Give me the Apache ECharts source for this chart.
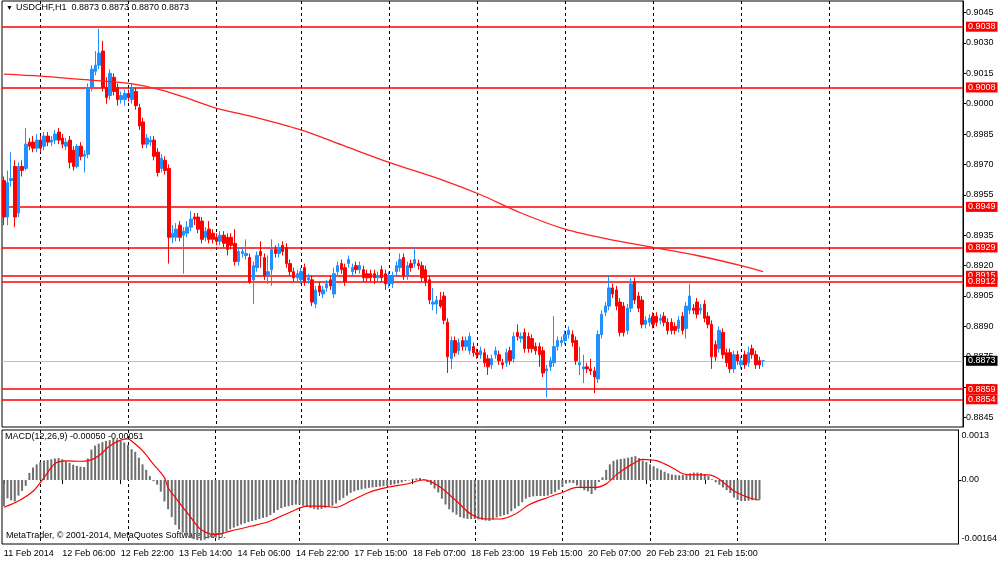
<!DOCTYPE html>
<html><head><meta charset="utf-8">
<script src="https://cdn.jsdelivr.net/npm/echarts@6.0.0/dist/echarts.min.js"></script>
<style>html,body{margin:0;padding:0;background:#fff}#c{width:1000px;height:561px}</style>
</head><body><div id="c"></div>
<script>
// ---- time axis (H1 bars, server time) ----
const sessions = [['2014-02-11T14:00:00Z', 81], ['2014-02-15T00:00:00Z', 8], ['2014-02-17T08:00:00Z', 149]];
const totalSlots = 262;
const xTickLabels = ['11 Feb 2014','12 Feb 06:00','12 Feb 22:00','13 Feb 14:00','14 Feb 06:00','14 Feb 22:00','17 Feb 15:00','18 Feb 07:00','18 Feb 23:00','19 Feb 15:00','20 Feb 07:00','20 Feb 23:00','21 Feb 15:00'];
const labelEvery = 16;

// ---- price ticks / levels ----
const priceTicks = [0.9045,0.9030,0.9015,0.9000,0.8985,0.8970,0.8955,0.8935,0.8920,0.8905,0.8890,0.8875,0.8860,0.8845];
const levels = [0.9038,0.9008,0.8949,0.8929,0.8915,0.8912,0.8859,0.8854];
const macdTickValues = [0.00113, 0, -0.00149];
const macdTickLabels = ['0.0013', '0.00', '-0.00164'];

// ---- OHLC ----
const opens = [
.8962,.8944,.8962,.8969,.8946,.8969,.8968,.8981,.8981,.8978,.8982,.8979,.8984,.8981,.8982,.8986,.8983,.8979,.8982,.8977,
.8969,.8979,.8974,.8975,.9008,.9016,.9019,.9026,.9008,.9004,.9013,.9008,.9002,.9002,.9005,.9002,.9006,.8998,.8991,.8980,
.8981,.8982,.8976,.8968,.8972,.8968,.8934,.8934,.8940,.8935,.8936,.8939,.8944,.8944,.8942,.8934,.8938,.8936,.8934,.8932,
.8935,.8934,.8934,.8931,.8922,.8926,.8925,.8924,.8913,.8919,.8927,.8924,.8915,.8918,.8928,.8926,.8930,.8929,.8921,.8917,
.8914,.8913,.8919,.8913,.8913,.8901,.8910,.8906,.8909,.8913,.8906,.8917,.8921,.8919,.8921,.8917,.8920,.8918,.8918,.8916,
.8916,.8916,.8914,.8918,.8916,.8911,.8911,.8917,.8919,.8924,.8915,.8921,.8921,.8921,.8920,.8918,.8913,.8901,.8901,.8903,
.8905,.8892,.8874,.8883,.8878,.8883,.8880,.8878,.8880,.8877,.8876,.8877,.8874,.8871,.8876,.8876,.8872,.8872,.8878,.8874,
.8887,.8884,.8887,.8885,.8884,.8880,.8880,.8878,.8868,.8870,.8872,.8880,.8882,.8883,.8886,.8886,.8883,.8871,.8869,.8870,
.8869,.8868,.8864,.8886,.8897,.8900,.8909,.8908,.8902,.8900,.8888,.8899,.8912,.8905,.8903,.8891,.8892,.8895,.8895,.8893,
.8895,.8892,.8892,.8890,.8889,.8895,.8889,.8898,.8899,.8902,.8898,.8901,.8895,.8891,.8881,.8879,.8887,.8877,.8877,.8869,
.8876,.8871,.8876,.8872,.8879,.8876,.8873,.8873];
const closes = [
.8944,.8961,.8963,.8944,.8969,.8967,.8980,.8979,.8978,.8982,.8978,.8984,.8981,.8982,.8985,.8982,.8980,.8981,.8971,.8969,
.8979,.8974,.8975,.9008,.9017,.9019,.9025,.9008,.9003,.9015,.9006,.9002,.9004,.9005,.9003,.9008,.8999,.8989,.8980,.8983,
.8982,.8974,.8966,.8973,.8967,.8934,.8936,.8938,.8934,.8937,.8939,.8943,.8943,.8938,.8933,.8937,.8933,.8933,.8932,.8935,
.8931,.8928,.8930,.8922,.8927,.8927,.8926,.8912,.8920,.8925,.8925,.8915,.8917,.8928,.8926,.8929,.8927,.8921,.8917,.8914,
.8916,.8917,.8912,.8914,.8902,.8908,.8907,.8908,.8911,.8910,.8916,.8920,.8918,.8912,.8923,.8919,.8918,.8920,.8914,.8914,
.8914,.8914,.8915,.8914,.8911,.8915,.8915,.8920,.8923,.8915,.8920,.8919,.8923,.8920,.8914,.8912,.8903,.8902,.8903,.8900,
.8893,.8875,.8883,.8877,.8882,.8880,.8883,.8885,.8877,.8876,.8878,.8872,.8870,.8874,.8878,.8873,.8871,.8877,.8873,.8885,
.8885,.8885,.8879,.8879,.8879,.8878,.8876,.8867,.8869,.8873,.8880,.8883,.8883,.8886,.8888,.8882,.8873,.8872,.8870,.8869,
.8868,.8865,.8886,.8896,.8900,.8909,.8906,.8900,.8887,.8887,.8899,.8911,.8903,.8899,.8891,.8893,.8894,.8891,.8892,.8894,
.8892,.8888,.8888,.8888,.8893,.8888,.8900,.8905,.8898,.8896,.8899,.8894,.8891,.8875,.8875,.8888,.8876,.8872,.8869,.8876,
.8873,.8873,.8871,.8877,.8876,.8871,.8871,.8873];
const lows = [
.8940,.8940,.8959,.8939,.8944,.8964,.8967,.8977,.8976,.8976,.8976,.8977,.8979,.8979,.8980,.8980,.8978,.8977,.8968,.8967,
.8968,.8972,.8966,.8973,.9006,.9014,.9017,.9006,.9000,.9002,.9004,.8999,.9000,.8999,.9001,.9000,.8997,.8987,.8978,.8978,
.8979,.8972,.8964,.8966,.8965,.8921,.8931,.8932,.8932,.8916,.8934,.8937,.8940,.8936,.8931,.8932,.8931,.8931,.8930,.8930,
.8929,.8925,.8928,.8920,.8920,.8924,.8923,.8911,.8901,.8917,.8919,.8913,.8911,.8910,.8924,.8924,.8925,.8919,.8915,.8912,
.8912,.8911,.8910,.8911,.8900,.8899,.8905,.8904,.8907,.8908,.8904,.8915,.8916,.8910,.8919,.8915,.8916,.8916,.8912,.8912,
.8912,.8911,.8912,.8912,.8908,.8909,.8909,.8915,.8917,.8913,.8913,.8917,.8919,.8918,.8912,.8910,.8901,.8898,.8896,.8899,
.8891,.8867,.8869,.8875,.8876,.8878,.8878,.8876,.8875,.8874,.8874,.8870,.8866,.8869,.8874,.8871,.8869,.8870,.8871,.8872,
.8883,.8882,.8877,.8877,.8877,.8876,.8870,.8865,.8855,.8868,.8870,.8878,.8880,.8881,.8884,.8880,.8871,.8866,.8862,.8867,
.8866,.8857,.8862,.8884,.8895,.8898,.8904,.8898,.8885,.8885,.8886,.8897,.8901,.8897,.8889,.8889,.8890,.8889,.8890,.8891,
.8890,.8886,.8886,.8886,.8887,.8886,.8884,.8896,.8896,.8894,.8896,.8892,.8889,.8869,.8873,.8877,.8874,.8870,.8867,.8867,
.8871,.8869,.8869,.8870,.8874,.8869,.8869,.8870];
const highs = [
.8964,.8967,.8976,.8972,.8971,.8972,.8988,.8983,.8984,.8985,.8984,.8986,.8986,.8984,.8987,.8988,.8985,.8983,.8984,.8979,
.8980,.8981,.8977,.9010,.9019,.9026,.9037,.9031,.9013,.9017,.9015,.9010,.9006,.9007,.9007,.9010,.9008,.9000,.8993,.8985,
.8984,.8984,.8978,.8975,.8974,.8970,.8940,.8941,.8942,.8939,.8942,.8947,.8946,.8946,.8944,.8939,.8942,.8938,.8936,.8937,
.8937,.8936,.8936,.8938,.8929,.8929,.8933,.8926,.8922,.8927,.8932,.8926,.8925,.8933,.8930,.8931,.8932,.8931,.8923,.8919,
.8918,.8919,.8921,.8916,.8915,.8910,.8912,.8910,.8913,.8915,.8919,.8922,.8923,.8921,.8925,.8921,.8922,.8922,.8920,.8918,
.8918,.8918,.8917,.8920,.8918,.8917,.8917,.8922,.8926,.8926,.8922,.8923,.8929,.8923,.8922,.8920,.8915,.8909,.8905,.8907,
.8907,.8894,.8885,.8885,.8884,.8885,.8885,.8887,.8882,.8879,.8880,.8879,.8876,.8876,.8880,.8878,.8874,.8879,.8880,.8887,
.8891,.8887,.8889,.8887,.8886,.8882,.8882,.8880,.8871,.8875,.8895,.8885,.8885,.8888,.8890,.8888,.8885,.8880,.8876,.8872,
.8874,.8870,.8888,.8898,.8902,.8915,.8911,.8910,.8904,.8902,.8901,.8914,.8914,.8907,.8905,.8895,.8896,.8897,.8897,.8896,
.8897,.8894,.8894,.8892,.8895,.8897,.8902,.8911,.8901,.8904,.8901,.8903,.8897,.8893,.8883,.8890,.8889,.8879,.8879,.8878,
.8878,.8875,.8878,.8880,.8881,.8878,.8875,.8873];

// ---- moving average (read points: [bar index, value]) ----
const maPoints = [[0,0.90146],[10,0.90136],[23,0.90117],[35,0.90098],[43,0.90067],[50,0.90027],[58,0.89977],[67,0.8994],[81,0.8987],[93,0.8979],[105,0.8971],[120,0.8962],[130,0.8955],[141,0.8946],[153,0.8938],[165,0.8933],[177,0.8929],[189,0.8925],[201,0.8920],[207,0.8917]];

// ---- MACD main (histogram) ----
const macdMain = [
-0.00067,-0.00047,-0.00052,-0.00055,-0.00040,-0.00028,-0.00015,0.00018,0.00032,0.00040,
0.00046,0.00050,0.00051,0.00053,0.00055,0.00056,0.00053,0.00048,0.00044,0.00039,
0.00036,0.00034,0.00033,0.00055,0.00078,0.00088,0.00093,0.00097,0.00100,0.00102,
0.00105,0.00104,0.00100,0.00096,0.00090,0.00079,0.00072,0.00057,0.00040,0.00026,
0.00010,-0.00003,
-0.00012,-0.00030,-0.00055,-0.00075,-0.00095,-0.00115,-0.00127,-0.00135,-0.00142,-0.00148,
-0.00152,-0.00154,-0.00155,-0.00153,-0.00150,-0.00147,-0.00145,-0.00140,-0.00137,-0.00132,
-0.00126,-0.00122,-0.00118,-0.00114,-0.00111,-0.00108,-0.00105,-0.00103,-0.00100,-0.00097,
-0.00095,-0.00090,-0.00084,-0.00077,-0.00072,-0.00069,-0.00067,-0.00065,-0.00063,-0.00063,
-0.00066,-0.00069,-0.00072,-0.00074,-0.00076,-0.00074,-0.00071,-0.00069,-0.00066,-0.00060,
-0.00052,-0.00046,-0.00040,-0.00033,-0.00029,-0.00026,-0.00024,-0.00022,-0.00020,-0.00019,
-0.00018,-0.00017,-0.00016,-0.00015,-0.00013,-0.00011,-0.00009,-0.00006,-0.00003,-0.00001,
0.00003,0.00004,0.00005,0.00002,-0.00005,-0.00012,-0.00022,-0.00032,-0.00048,-0.00063,
-0.00075,-0.00083,-0.00089,-0.00095,-0.00098,-0.00100,-0.00100,-0.00100,-0.00101,-0.00102,
-0.00104,-0.00105,-0.00101,-0.00096,-0.00093,-0.00090,-0.00088,-0.00080,-0.00073,-0.00067,
-0.00057,-0.00048,-0.00044,-0.00042,-0.00041,-0.00041,-0.00041,-0.00040,-0.00036,-0.00031,
-0.00025,-0.00017,-0.00009,-0.00007,-0.00008,-0.00014,-0.00021,-0.00026,-0.00029,-0.00036,
-0.00026,-0.00005,0.00007,0.00026,0.00040,0.00049,0.00052,0.00054,0.00055,0.00057,
0.00059,0.00061,0.00056,0.00050,0.00046,0.00040,0.00035,0.00030,0.00026,0.00021,
0.00017,0.00014,0.00013,0.00012,0.00013,0.00015,0.00017,0.00019,0.00019,0.00018,
0.00015,0.00010,0.00002,-0.00006,-0.00012,-0.00019,-0.00026,-0.00033,-0.00045,-0.00051,
-0.00054,-0.00054,-0.00053,-0.00052,-0.00052,-0.00050];

// ---- MACD signal (read points: [bar index, value]) ----
const signalPoints = [[0,-0.0007],[4,-0.00054],[8,-0.00029],[11,0.00006],[14,0.00042],[17,0.00049],[21,0.00048],[23,0.00049],[26,0.00062],[29,0.00087],[32,0.00102],[34,0.00105],[35,0.00100],[38,0.00075],[41,0.00040],[44,0.00006],[45,-0.0002],[47,-0.00045],[51,-0.00093],[54,-0.00127],[58,-0.0014],[62,-0.00131],[68,-0.00118],[73,-0.00105],[79,-0.0008],[83,-0.00067],[87,-0.00067],[91,-0.0007],[95,-0.00054],[100,-0.00032],[105,-0.00019],[110,-0.00011],[115,0],[119,-0.00015],[124,-0.00054],[128,-0.00088],[132,-0.001],[136,-0.001],[140,-0.00088],[144,-0.00063],[149,-0.00045],[153,-0.00032],[157,-0.00019],[162,-0.00019],[165,-0.0001],[168,0.00015],[172,0.0004],[175,0.00053],[179,0.00049],[183,0.00032],[186,0.00016],[190,0.00013],[193,0.00013],[196,0.00002],[200,-0.00028],[204,-0.00045],[206,-0.0005],[207,-0.00051]];

// ---- build categories ----
const MON = ['Jan','Feb','Mar','Apr','May','Jun','Jul','Aug','Sep','Oct','Nov','Dec'];
const pad = n => (n < 10 ? '0' : '') + n;
const categories = [];
sessions.forEach(([start, n]) => {
  const t0 = Date.parse(start);
  for (let k = 0; k < n; k++) {
    const d = new Date(t0 + k * 3600000);
    categories.push(d.getUTCDate() + ' ' + MON[d.getUTCMonth()] + ' ' + pad(d.getUTCHours()) + ':00');
  }
});
while (categories.length < totalSlots) categories.push('');

const FONT = 'Liberation Sans';
const isDayStart = (i, v) => typeof v === 'string' && v.endsWith(' 00:00');
const isLabelIdx = (i) => i % labelEvery === 0 && i / labelEvery < xTickLabels.length;

const candleData = opens.map((o, i) => [o, closes[i], lows[i], highs[i]]);
const last = closes.length - 1;

const RED = '#ff0000';
const levelMarks = levels.map(v => ({
  yAxis: v,
  lineStyle: { color: RED, width: 1.6, type: 'solid', opacity: 1 },
  label: { backgroundColor: RED }
}));
levelMarks.push({
  yAxis: closes[last],
  lineStyle: { color: '#c0c0c0', width: 1, type: 'solid', opacity: 1 },
  label: { backgroundColor: '#000000' }
});

const chart = echarts.init(document.getElementById('c'), null, { renderer: 'canvas' });
chart.setOption({
  animation: false,
  backgroundColor: '#ffffff',
  grid: [
    { left: 2, right: 37, top: 1, height: 426, show: true, borderColor: '#000', borderWidth: 1, backgroundColor: '#fff' },
    { left: 2, right: 37, top: 430, height: 114, show: true, borderColor: '#000', borderWidth: 1, backgroundColor: '#fff' }
  ],
  xAxis: [
    { type: 'category', gridIndex: 0, data: categories, boundaryGap: true,
      axisLine: { show: false }, axisTick: { show: false }, axisLabel: { show: false },
      splitLine: { show: true, interval: isDayStart, alignWithLabel: true, lineStyle: { color: '#000', width: 1, type: [3, 3] } } },
    { type: 'category', gridIndex: 1, data: categories, boundaryGap: true,
      axisLine: { show: false },
      axisTick: { show: true, interval: isLabelIdx, alignWithLabel: true, length: 4, lineStyle: { color: '#000' } },
      axisLabel: { show: true, interval: isLabelIdx, align: 'left', color: '#000', fontSize: 9, fontFamily: FONT, margin: 5,
        formatter: (v, i) => xTickLabels[i / labelEvery] },
      splitLine: { show: true, interval: isDayStart, alignWithLabel: true, lineStyle: { color: '#000', width: 1, type: [3, 3] } } }
  ],
  yAxis: [
    { type: 'value', gridIndex: 0, position: 'right', min: 0.88403, max: 0.90507,
      axisLine: { show: true, lineStyle: { color: '#000' } },
      axisTick: { show: true, customValues: priceTicks, length: 3, lineStyle: { color: '#000' } },
      axisLabel: { show: true, customValues: priceTicks, formatter: v => v.toFixed(4), color: '#000', fontSize: 9, fontFamily: FONT, margin: 3 },
      splitLine: { show: false } },
    { type: 'value', gridIndex: 1, position: 'right', min: -0.00164, max: 0.00128,
      axisLine: { show: true, lineStyle: { color: '#000' } },
      axisTick: { show: true, customValues: [0], length: 3, lineStyle: { color: '#000' } },
      axisLabel: { show: true, customValues: macdTickValues, color: '#000', fontSize: 9, fontFamily: FONT, margin: 3,
        formatter: v => macdTickLabels[macdTickValues.indexOf(v)] },
      splitLine: { show: false } }
  ],
  series: [
    { type: 'candlestick', name: 'USDCHF', xAxisIndex: 0, yAxisIndex: 0, data: candleData, barWidth: 3,
      itemStyle: { color: '#1e90ff', color0: RED, borderColor: '#1e90ff', borderColor0: RED, borderWidth: 1 },
      markLine: { silent: true, symbol: ['none', 'none'], animation: false, precision: 4, z: 1,
        lineStyle: { color: RED, width: 1.6, type: 'solid', opacity: 1 },
        emphasis: { disabled: true },
        label: { show: true, position: 'end', distance: 3, color: '#fff', fontSize: 9, fontFamily: FONT,
          padding: [1, 2, 0, 2], formatter: p => Number(p.value).toFixed(4) },
        data: levelMarks } },
    { type: 'line', name: 'MA', xAxisIndex: 0, yAxisIndex: 0, data: maPoints, showSymbol: false, smooth: 0.3,
      lineStyle: { color: '#ff2020', width: 1.3 }, z: 3 },
    { type: 'bar', name: 'MACD', xAxisIndex: 1, yAxisIndex: 1, data: macdMain, barWidth: 2,
      itemStyle: { color: '#6e6e6e' } },
    { type: 'line', name: 'Signal', xAxisIndex: 1, yAxisIndex: 1, data: signalPoints, showSymbol: false, smooth: 0.3,
      lineStyle: { color: RED, width: 1.2 }, z: 3 }
  ],
  graphic: [
    { type: 'text', left: 6, top: 5, style: { text: '\u25BC', font: '7px ' + FONT, fill: '#000' } },
    { type: 'text', left: 16, top: 3, style: { text: 'USDCHF,H1  ' + [opens[last], highs[last], lows[last], closes[last]].map(v => v.toFixed(4)).join(' '), font: '9px ' + FONT, fill: '#000' } },
    { type: 'text', left: 5, top: 432, style: { text: 'MACD(12,26,9) ' + macdMain[last].toFixed(5) + ' ' + signalPoints[signalPoints.length - 1][1].toFixed(5), font: '9px ' + FONT, fill: '#000' } },
    { type: 'text', left: 6, top: 531, style: { text: 'MetaTrader, \u00A9 2001-2014, MetaQuotes Software Corp.', font: '9px ' + FONT, fill: '#000' } }
  ]
});
</script></body></html>
